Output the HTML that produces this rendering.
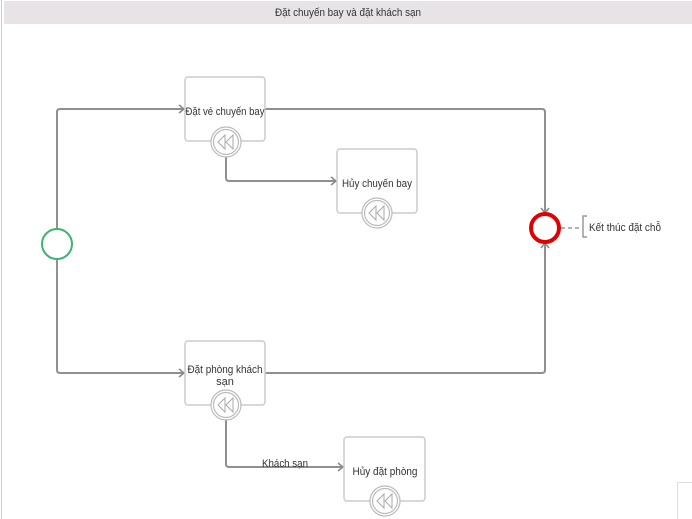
<!DOCTYPE html>
<html><head><meta charset="utf-8"><style>
html,body{margin:0;padding:0;background:#fff;width:692px;height:519px;overflow:hidden}
svg{display:block}
text{font-family:"Liberation Sans",sans-serif;font-size:11px;fill:#333}
</style></head><body>
<svg width="692" height="519" viewBox="0 0 692 519">
<defs>
<marker id="a" markerWidth="10" markerHeight="10" refX="8" refY="5" orient="auto" markerUnits="userSpaceOnUse">
<path d="M3,1 L8,5 L3,9" fill="none" stroke="#888" stroke-width="1.5"/>
</marker>
<g id="comp">
<circle r="15" fill="#fff" stroke="#bbb" stroke-width="1.2"/>
<circle r="12.5" fill="#fff" stroke="#bbb" stroke-width="1.2"/>
<path d="M-1,-7 L-8,0 L-1,7 Z M7,-7 L0,0 L7,7 Z" fill="none" stroke="#aaa" stroke-width="1"/>
</g>
</defs>
<line x1="1.5" y1="0" x2="1.5" y2="519" stroke="#ccc"/>
<rect x="4" y="1" width="688" height="23" fill="#e7e3e6"/>
<text x="348" y="16" text-anchor="middle" font-size="11" textLength="146" lengthAdjust="spacingAndGlyphs">Đặt chuyến bay và đặt khách sạn</text>

<g fill="none" stroke="#909090" stroke-width="2">
<path d="M57,229 V112 Q57,109 60,109 H184" marker-end="url(#a)"/>
<path d="M57,259 V370 Q57,373 60,373 H184" marker-end="url(#a)"/>
<path d="M265,109 H542 Q545,109 545,112 V213" marker-end="url(#a)"/>
<path d="M265,373 H542 Q545,373 545,370 V243" marker-end="url(#a)"/>
<path d="M226,157 V178 Q226,181 229,181 H336" marker-end="url(#a)"/>
<path d="M226,420 V464 Q226,467 229,467 H343" marker-end="url(#a)"/>
</g>

<circle cx="57" cy="244" r="15" fill="#fff" stroke="#3cb371" stroke-width="2"/>
<circle cx="545" cy="228" r="14" fill="#fff" stroke="#e00000" stroke-width="4"/>

<g fill="#fff" stroke="#ccc" stroke-width="1.5">
<rect x="185" y="77" width="80" height="64" rx="3"/>
<rect x="337" y="149" width="80" height="64" rx="3"/>
<rect x="185" y="341" width="80" height="64" rx="3"/>
<rect x="344" y="437" width="81" height="64" rx="3"/>
</g>
<use href="#comp" x="226" y="142"/>
<use href="#comp" x="377" y="213"/>
<use href="#comp" x="226" y="405"/>
<use href="#comp" x="385" y="501"/>

<g font-size="11.5" fill="#334">
<text x="225" y="115" text-anchor="middle" textLength="79" lengthAdjust="spacingAndGlyphs">Đặt vé chuyến bay</text>
<text x="377" y="187" text-anchor="middle" textLength="70" lengthAdjust="spacingAndGlyphs">Hủy chuyến bay</text>
<text x="225" y="373" text-anchor="middle" textLength="75" lengthAdjust="spacingAndGlyphs">Đặt phòng khách</text>
<text x="225" y="385" text-anchor="middle">sạn</text>
<text x="385" y="475" text-anchor="middle" textLength="65" lengthAdjust="spacingAndGlyphs">Hủy đặt phòng</text>
<text x="262" y="467" textLength="46" lengthAdjust="spacingAndGlyphs">Khách sạn</text>
<text x="589" y="231" textLength="72" lengthAdjust="spacingAndGlyphs">Kết thúc đặt chỗ</text>
</g>

<line x1="561" y1="228" x2="582" y2="228" stroke="#999" stroke-width="1.5" stroke-dasharray="4,3"/>
<path d="M587,216 H583 V237 H587" fill="none" stroke="#999" stroke-width="1.5"/>

<rect x="677.5" y="482.5" width="20" height="40" fill="#fff" stroke="#ddd"/>
</svg>
</body></html>
